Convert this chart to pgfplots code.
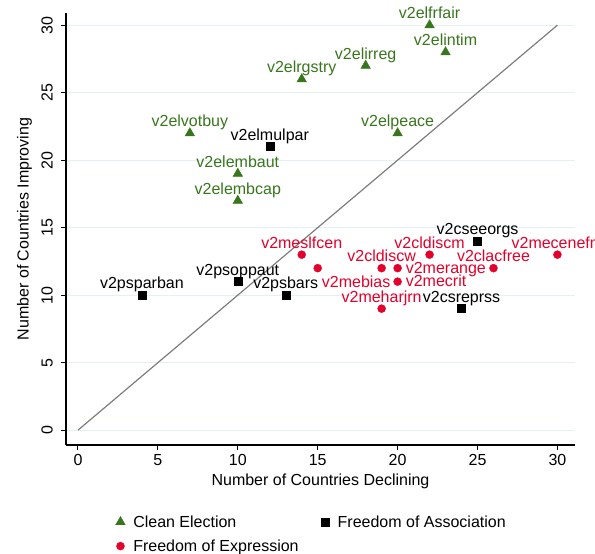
\documentclass[border=0pt]{standalone}
\usepackage{pgfplots}
\pgfplotsset{compat=1.18}
\usepackage{pgfplotstable}
\usepackage{fontspec}
\setmainfont{Liberation Sans}
\definecolor{ceg}{RGB}{56,118,29}
\definecolor{fer}{RGB}{228,0,43}
\definecolor{gridc}{RGB}{230,240,242}
\definecolor{diag}{RGB}{125,125,125}

\pgfplotstableread{
x y lab
22 30 v2elfrfair
23 28 v2elintim
18 27 v2elirreg
14 26 v2elrgstry
7 22 v2elvotbuy
20 22 v2elpeace
10 19 v2elembaut
10 17 v2elembcap
}\clean

\pgfplotstableread{
x y lab
12 21 v2elmulpar
25 14 v2cseeorgs
10 11 v2psoppaut
4 10 v2psparban
13 10 v2psbars
24 9 v2csreprss
}\assoc

\pgfplotstableread{
x y lab
14 13 v2meslfcen
22 13 v2cldiscm
30 13 v2mecenefm
19 12 v2cldiscw
26 12 v2clacfree
19 9 v2meharjrn
}\exprA

\pgfplotstableread{
x y lab
20 12 v2merange
20 11 v2mecrit
}\exprB

\pgfplotstableread{
x y lab
15 12 v2mebias
}\exprC

\begin{document}
\begin{tikzpicture}[font=\fontsize{16}{19}\selectfont]
\begin{axis}[
  name=ax,
  scale only axis,
  width=509pt, height=432pt,
  xmin=-0.75, xmax=31.1,
  ymin=-1.1, ymax=30.9,
  axis x line=bottom, axis y line=left,
  axis line style={-, line width=1.1pt, black},
  xtick={0,5,...,30}, ytick={0,5,...,30},
  tick align=outside,
  major tick length=5pt,
  tick style={line width=1pt, black},
  /pgf/number format/assume math mode=true,
  yticklabel style={rotate=90, anchor=south, inner sep=2pt, yshift=6pt},
  xticklabel style={inner sep=2pt, yshift=-2pt},
  ymajorgrids,
  grid style={gridc, line width=1pt},
  xlabel={Number of Countries Declining},
  ylabel={Number of Countries Improving},
  xlabel style={yshift=-3pt},
  ylabel style={yshift=4pt},
  clip=false,
  point meta=explicit symbolic,
  legend columns=2,
  legend style={at={(0.0973,-0.158)}, anchor=north west, draw=none, fill=none,
    /tikz/every odd column/.append style={column sep=6pt},
    /tikz/every even column/.append style={column sep=21pt},
    row sep=7pt, inner sep=0pt},
  legend cell align=left,
  above/.style={nodes near coords, every node near coord/.append style={anchor=base, yshift=6.5pt, inner sep=0pt}},
]
\addplot[diag, line width=1.2pt, forget plot] coordinates {(0,0) (30,30)};

\addplot[only marks, mark=triangle*, mark size=5.5pt, mark options={draw=ceg, fill=ceg},
  above, every node near coord/.append style={text=ceg}]
  table[x=x, y=y, meta=lab]{\clean};
\addlegendentry{Clean Election}

\addplot[only marks, mark=square*, mark size=4pt, mark options={draw=black, fill=black},
  above, every node near coord/.append style={text=black}]
  table[x=x, y=y, meta=lab]{\assoc};
\addlegendentry{Freedom of Association}

\addplot[only marks, mark=*, mark size=4pt, mark options={draw=fer, fill=fer},
  above, every node near coord/.append style={text=fer}]
  table[x=x, y=y, meta=lab]{\exprA};
\addlegendentry{Freedom of Expression}

\addplot[only marks, mark=*, mark size=4pt, mark options={draw=fer, fill=fer}, forget plot,
  nodes near coords, every node near coord/.append style={anchor=base west, xshift=8pt, yshift=-5pt, inner sep=0pt, text=fer}]
  table[x=x, y=y, meta=lab]{\exprB};

\addplot[only marks, mark=*, mark size=4pt, mark options={draw=fer, fill=fer}, forget plot,
  nodes near coords, every node near coord/.append style={anchor=base west, xshift=4pt, yshift=-19pt, inner sep=0pt, text=fer}]
  table[x=x, y=y, meta=lab]{\exprC};
\end{axis}
\pgfresetboundingbox
\path ([shift={(-66pt,-109pt)}]ax.south west) rectangle ([shift={(529pt,445pt)}]ax.south west);
\end{tikzpicture}
\end{document}
